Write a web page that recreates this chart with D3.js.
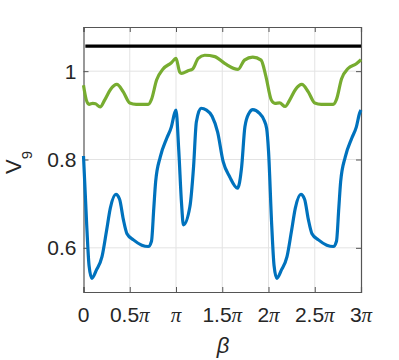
<!DOCTYPE html>
<head>
  <script src="https://cdn.jsdelivr.net/npm/d3@7"></script>
  <style>
    html, body { margin: 0; background: #fff; }
    text { font-family: "Liberation Sans", Arial, sans-serif; fill: #262626; }
  </style>
</head>
<body>
<svg id="chart" width="399" height="360"></svg>
<script>
  // beta values are in units of pi
  const blueBeta = [0, 0.035, 0.06, 0.09, 0.14, 0.2, 0.25, 0.29, 0.35, 0.39, 0.43, 0.47, 0.54, 0.63, 0.7, 0.735, 0.76, 0.78, 0.83, 0.9, 0.95, 0.985, 1.0,
    1.03, 1.06, 1.08, 1.15, 1.19, 1.22, 1.27, 1.33, 1.39, 1.45, 1.51, 1.58, 1.665, 1.71, 1.745, 1.79, 1.83, 1.9, 1.95, 1.98, 2.0,
    2.035, 2.06, 2.09, 2.14, 2.2, 2.25, 2.29, 2.35, 2.39, 2.43, 2.47, 2.54, 2.63, 2.7, 2.735, 2.76, 2.78, 2.83, 2.9, 2.95, 2.985, 3.0];
  const blueV = [0.808, 0.65, 0.56, 0.531, 0.55, 0.58, 0.64, 0.69, 0.721, 0.71, 0.665, 0.632, 0.618, 0.606, 0.603, 0.615, 0.69, 0.75, 0.806, 0.848, 0.874, 0.905, 0.912,
    0.82, 0.70, 0.652, 0.693, 0.784, 0.885, 0.916, 0.912, 0.898, 0.862, 0.795, 0.761, 0.735, 0.784, 0.874, 0.905, 0.913, 0.905, 0.89, 0.87, 0.82,
    0.65, 0.56, 0.531, 0.55, 0.58, 0.64, 0.69, 0.721, 0.71, 0.665, 0.632, 0.618, 0.606, 0.603, 0.615, 0.69, 0.75, 0.806, 0.848, 0.874, 0.905, 0.912];

  const greenBeta = [0, 0.03, 0.06, 0.1, 0.13, 0.18, 0.23, 0.29, 0.36, 0.43, 0.5, 0.57, 0.7, 0.735, 0.79, 0.86, 0.95, 1.0,
    1.04, 1.06, 1.13, 1.18, 1.24, 1.31, 1.42, 1.53, 1.67, 1.74, 1.83, 1.92, 1.97, 2.03,
    2.07, 2.12, 2.18, 2.23, 2.29, 2.36, 2.43, 2.5, 2.57, 2.7, 2.735, 2.79, 2.86, 2.95, 3.0];
  const greenV = [0.968, 0.935, 0.925, 0.927, 0.926, 0.919, 0.935, 0.958, 0.970, 0.953, 0.928, 0.925, 0.925, 0.936, 0.98, 1.005, 1.019, 1.029,
    0.998, 0.995, 1.001, 1.005, 1.029, 1.036, 1.033, 1.017, 1.004, 1.025, 1.032, 1.025, 0.99, 0.935,
    0.927, 0.928, 0.920, 0.935, 0.958, 0.970, 0.953, 0.928, 0.925, 0.925, 0.936, 0.983, 1.006, 1.017, 1.026];

  const refBeta = [0.02, 3];
  const refV = [1.0565, 1.0565];

  const xTicks = [0, 0.5, 1, 1.5, 2, 2.5, 3];
  const xTickLabels = ["0", "0.5", "", "1.5", "2", "2.5", "3"];
  const yTicks = [0.6, 0.8, 1];

  const svg = d3.select("#chart");
  const pLeft = 83.5, pRight = 361, pTop = 27, pBottom = 292;
  const x = d3.scaleLinear().domain([0, 3]).range([pLeft, pRight]);
  const y = d3.scaleLinear().domain([0.5, 1.1]).range([pBottom, pTop]);

  // grid
  const grid = svg.append("g").attr("stroke", "#e3e3e3").attr("stroke-width", 1);
  xTicks.slice(1, -1).forEach(t => grid.append("line")
    .attr("x1", x(t)).attr("x2", x(t)).attr("y1", pTop).attr("y2", pBottom));
  yTicks.forEach(t => grid.append("line")
    .attr("x1", pLeft).attr("x2", pRight).attr("y1", y(t)).attr("y2", y(t)));

  // axes with inward ticks, MATLAB box style
  const axisColor = "#555";
  const xb = svg.append("g").attr("transform", `translate(0,${pBottom})`)
    .call(d3.axisBottom(x).tickValues(xTicks).tickSize(-5).tickFormat(""));
  const xt = svg.append("g").attr("transform", `translate(0,${pTop})`)
    .call(d3.axisTop(x).tickValues(xTicks).tickSize(-5).tickFormat(""));
  const yl = svg.append("g").attr("transform", `translate(${pLeft},0)`)
    .call(d3.axisLeft(y).tickValues(yTicks).tickSize(-5).tickFormat(""));
  const yr = svg.append("g").attr("transform", `translate(${pRight},0)`)
    .call(d3.axisRight(y).tickValues(yTicks).tickSize(-5).tickFormat(""));
  [xb, xt, yl, yr].forEach(g => {
    g.selectAll("path").attr("stroke", axisColor).attr("stroke-width", 1.2);
    g.selectAll("line").attr("stroke", axisColor);
  });

  // tick labels
  xTicks.forEach((t, i) => {
    const txt = svg.append("text").attr("x", x(t)).attr("y", 322)
      .attr("text-anchor", "middle").attr("font-size", 21);
    txt.append("tspan").text(xTickLabels[i]);
    if (t !== 0) txt.append("tspan").attr("font-style", "italic")
      .attr("font-family", "Liberation Serif, serif").text("\u03C0");
  });
  yTicks.forEach(t => svg.append("text").attr("x", pLeft - 7).attr("y", y(t) + 7.5)
    .attr("text-anchor", "end").attr("font-size", 21).text(d3.format("~g")(t)));

  // axis labels
  svg.append("text").attr("x", 223).attr("y", 353)
    .attr("text-anchor", "middle").attr("font-size", 22).attr("font-style", "italic")
    .attr("font-family", "Liberation Serif, serif").text("\u03B2");
  const yLab = svg.append("text").attr("transform", "translate(21,174) rotate(-90)")
    .attr("font-size", 22);
  yLab.append("tspan").text("V");
  yLab.append("tspan").attr("font-size", 15).attr("dy", 11).text("9");

  // curves
  const line = d3.line().x(d => x(d[0])).y(d => y(d[1])).curve(d3.curveMonotoneX);
  const plot = svg.append("g");
  plot.append("path").datum(d3.zip(refBeta, refV)).attr("d", line)
    .attr("fill", "none").attr("stroke", "#000").attr("stroke-width", 3.2);
  plot.append("path").datum(d3.zip(greenBeta, greenV)).attr("d", line)
    .attr("fill", "none").attr("stroke", "#77AC30").attr("stroke-width", 3.2).attr("stroke-linejoin", "round");
  plot.append("path").datum(d3.zip(blueBeta, blueV)).attr("d", line)
    .attr("fill", "none").attr("stroke", "#0072BD").attr("stroke-width", 3.2).attr("stroke-linejoin", "round");
</script>
</body>
